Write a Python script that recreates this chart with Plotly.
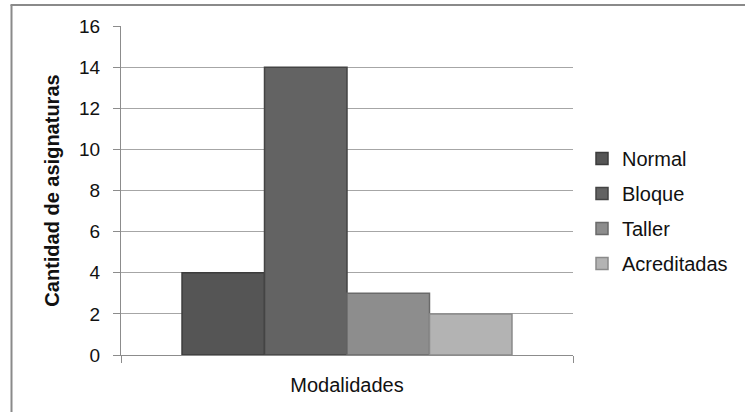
import plotly.graph_objects as go

# Number of courses per teaching modality
category = ["Modalidades"]
series_names = ["Normal", "Bloque", "Taller", "Acreditadas"]
series_values = [4, 14, 3, 2]
fill_colors = ["#555555", "#636363", "#8d8d8d", "#b3b3b3"]
edge_colors = ["#3c3c3c", "#444444", "#6a6a6a", "#8a8a8a"]

y_ticks = [0, 2, 4, 6, 8, 10, 12, 14, 16]

FONT = "Liberation Sans, Arial, sans-serif"

fig = go.Figure()
for name, val, fc, ec in zip(series_names, series_values, fill_colors, edge_colors):
    fig.add_trace(go.Bar(
        x=category, y=[val], name=name, legendgroup=name,
        marker=dict(color=fc, line=dict(color=ec, width=1.5)),
    ))

W, H = 745, 412
L, R, T, B = 121, 172, 26, 57
pw, ph = W - L - R, H - T - B

def px_x(v):
    return (v - L) / pw

def px_y(v):
    return (H - B - v) / ph

fig.update_layout(
    width=W, height=H,
    margin=dict(l=L, r=R, t=T, b=B),
    paper_bgcolor="white", plot_bgcolor="white",
    barmode="group", bargap=0.27, bargroupgap=0,
    font=dict(family=FONT, size=19, color="#111111"),
    showlegend=True,
    legend=dict(
        x=px_x(582), xanchor="left",
        y=px_y(211), yanchor="middle",
        font=dict(size=20, color="#111111"),
        tracegroupgap=6,
        bgcolor="rgba(0,0,0,0)",
    ),
    xaxis=dict(
        type="category",
        tickson="boundaries",
        ticks="outside", ticklen=7, tickcolor="#8c8c8c", tickwidth=1,
        showgrid=True, gridcolor="#a6a6a6", gridwidth=1,
        showline=True, linecolor="#8c8c8c", linewidth=1,
        tickfont=dict(size=20),
        ticklabelstandoff=12,
        fixedrange=True,
    ),
    yaxis=dict(
        range=[0, 16], tickvals=y_ticks,
        ticks="outside", ticklen=7, tickcolor="#8c8c8c", tickwidth=1,
        showgrid=True, gridcolor="#a6a6a6", gridwidth=1,
        showline=True, linecolor="#8c8c8c", linewidth=1,
        zeroline=False,
        tickfont=dict(size=19),
        ticklabelstandoff=9,
        title=dict(text="<b>Cantidad de asignaturas</b>",
                   font=dict(size=20), standoff=14),
    ),
    shapes=[
        # chart frame (left and top edges)
        dict(type="line", xref="paper", yref="paper",
             x0=px_x(11.5), x1=px_x(11.5), y0=px_y(5), y1=px_y(420),
             line=dict(color="#8a8a8a", width=2)),
        dict(type="line", xref="paper", yref="paper",
             x0=px_x(10.5), x1=px_x(760), y0=px_y(5), y1=px_y(5),
             line=dict(color="#8a8a8a", width=2)),
    ],
)

fig.write_html("out.html")
